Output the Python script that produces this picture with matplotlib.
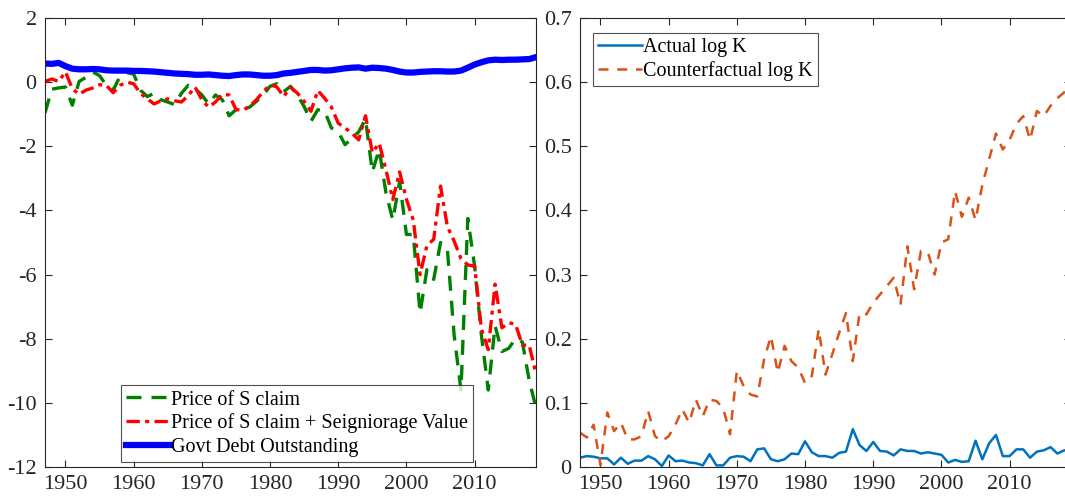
import matplotlib
matplotlib.use('Agg')
import matplotlib.pyplot as plt
import numpy as np

plt.rcParams['font.family'] = ['Liberation Serif', 'DejaVu Serif']
plt.rcParams['font.size'] = 15.5
plt.rcParams['axes.unicode_minus'] = False

# years shown on both panels
years = np.arange(1947, 2020)

# left panel
price_s = [-0.96, -0.22, -0.18, -0.15, -0.72, 0.02, 0.15, 0.32, 0.20, -0.10,
           -0.25, 0.18, 0.30, 0.25, -0.25, -0.45, -0.35, -0.55, -0.62, -0.70,
           -0.35, -0.10, -0.20, -0.40, -0.68, -0.40, -0.55, -1.05, -0.86, -0.85,
           -0.78, -0.60, -0.40, -0.13, -0.05, -0.30, -0.13, -0.40, -0.76, -1.22,
           -0.86, -0.90, -1.43, -1.55, -1.95, -1.75, -1.55, -1.15, -2.80, -2.10,
           -3.45, -4.30, -3.10, -4.75, -4.75, -7.20, -5.85, -6.15, -5.00, -5.20,
           -7.90, -9.60, -4.25, -5.74, -7.90, -9.60, -7.60, -8.40, -8.30, -8.00,
           -8.10, -9.30, -10.15]
price_s_seign = [0.02, 0.10, 0.02, 0.32, -0.20, -0.38, -0.25, -0.18, -0.08, -0.10,
                 -0.33, -0.10, 0.00, -0.05, -0.35, -0.52, -0.68, -0.58, -0.52, -0.58,
                 -0.62, -0.42, -0.15, -0.55, -0.78, -0.62, -0.38, -0.40, -0.85, -0.88,
                 -0.75, -0.55, -0.30, -0.08, -0.15, -0.45, -0.16, -0.34, -0.60, -0.91,
                 -0.26, -0.50, -0.78, -1.28, -1.43, -1.59, -1.80, -1.05, -2.20, -1.90,
                 -2.73, -3.66, -2.80, -3.65, -4.30, -6.00, -5.10, -4.90, -3.24, -4.50,
                 -4.96, -5.50, -5.70, -5.74, -7.70, -8.34, -6.30, -7.66, -7.50, -7.55,
                 -8.20, -8.20, -9.10]
govt_debt = [0.58, 0.57, 0.60, 0.50, 0.42, 0.40, 0.40, 0.41, 0.40, 0.37,
             0.36, 0.36, 0.36, 0.35, 0.35, 0.34, 0.33, 0.31, 0.29, 0.27,
             0.26, 0.25, 0.23, 0.23, 0.24, 0.22, 0.20, 0.19, 0.22, 0.24,
             0.24, 0.22, 0.20, 0.20, 0.22, 0.27, 0.29, 0.32, 0.35, 0.38,
             0.38, 0.36, 0.37, 0.40, 0.43, 0.45, 0.46, 0.42, 0.45, 0.44,
             0.42, 0.38, 0.33, 0.30, 0.30, 0.32, 0.33, 0.34, 0.34, 0.33,
             0.33, 0.36, 0.45, 0.55, 0.62, 0.68, 0.70, 0.69, 0.70, 0.70,
             0.71, 0.72, 0.78]

# right panel
actual_logk = [0.0145, 0.017, 0.016, 0.0135, 0.0135, 0.004, 0.0145, 0.005, 0.010, 0.0099,
               0.017, 0.012, 0.0015, 0.018, 0.009, 0.010, 0.007, 0.006, 0.0025, 0.020,
               0.0025, 0.0025, 0.0145, 0.017, 0.016, 0.009, 0.0275, 0.029, 0.012, 0.009,
               0.012, 0.021, 0.020, 0.040, 0.023, 0.017, 0.017, 0.0145, 0.022, 0.024,
               0.059, 0.034, 0.025, 0.039, 0.025, 0.024, 0.018, 0.0275, 0.025, 0.025,
               0.021, 0.023, 0.021, 0.019, 0.007, 0.011, 0.008, 0.009, 0.041, 0.012,
               0.037, 0.050, 0.017, 0.017, 0.0275, 0.0275, 0.0145, 0.024, 0.026, 0.031,
               0.021, 0.026, 0.025]
counter_logk = [0.0535, 0.046, 0.066, 0.003, 0.085, 0.056, 0.069, 0.043, 0.043, 0.048,
                0.087, 0.048, 0.040, 0.048, 0.066, 0.090, 0.069, 0.105, 0.079, 0.105,
                0.103, 0.092, 0.051, 0.150, 0.126, 0.113, 0.110, 0.168, 0.204, 0.147,
                0.189, 0.165, 0.155, 0.131, 0.142, 0.215, 0.144, 0.176, 0.209, 0.240,
                0.165, 0.240, 0.238, 0.256, 0.269, 0.282, 0.295, 0.253, 0.344, 0.277,
                0.337, 0.335, 0.300, 0.350, 0.355, 0.430, 0.390, 0.420, 0.385, 0.440,
                0.480, 0.520, 0.495, 0.510, 0.535, 0.547, 0.510, 0.555, 0.547, 0.563,
                0.575, 0.584, 0.600]

xticks = [1950, 1960, 1970, 1980, 1990, 2000, 2010]
txtcol = '#262626'

fig = plt.figure(figsize=[10.65, 4.99], dpi=100)
ax1 = fig.add_axes([45/1065., 32/499., 491/1065., 449/499.])
ax2 = fig.add_axes([580/1065., 32/499., 491/1065., 449/499.])

#==============================================================================
ax1.plot(years, price_s, '--', color=(0, 0.5, 0), lw=2.4, dashes=(4.5, 3.0),
         label='Price of S claim')
ax1.plot(years, price_s_seign, '-.', color='r', lw=2.4, dashes=(4.0, 1.6, 1.2, 1.6),
         label='Price of S claim + Seigniorage Value')
ax1.plot(years, govt_debt, '-', color='b', lw=4.5, label='Govt Debt Outstanding')
ax1.set_xlim(1947, 2019)
ax1.set_ylim(-12, 2)
ax1.set_yticks(np.arange(-12, 3, 2))
leg = ax1.legend(loc='lower left', bbox_to_anchor=(0.155, 0.012), fancybox=False,
                 edgecolor=txtcol, handlelength=2.2, handletextpad=0.05,
                 labelspacing=0.2, borderpad=0.25, borderaxespad=0, fontsize=14.5)
leg.get_frame().set_linewidth(0.8)

#==============================================================================
ax2.plot(years, actual_logk, '-', color=(0, 0.447, 0.741), lw=1.8, label='Actual log K')
ax2.plot(years, counter_logk, '--', color=(0.85, 0.325, 0.098), lw=1.8,
         dashes=(4.0, 3.5), label='Counterfactual log K')
ax2.set_xlim(1947, 2019)
ax2.set_ylim(0, 0.7)
ax2.set_yticks(np.arange(0, 0.71, 0.1))
ax2.set_yticklabels(['0', '0.1', '0.2', '0.3', '0.4', '0.5', '0.6', '0.7'])
leg = ax2.legend(loc='upper left', bbox_to_anchor=(0.026, 0.967), fancybox=False,
                 edgecolor=txtcol, handlelength=2.2, handletextpad=0.05,
                 labelspacing=0.2, borderpad=0.25, borderaxespad=0, fontsize=14.5)
leg.get_frame().set_linewidth(0.8)

for ax in (ax1, ax2):
    ax.set_xticks(xticks)
    ax.tick_params(direction='in', top=True, right=True, length=5, width=0.8,
                   colors=txtcol, labelsize=16, pad=6)
    for s in ax.spines.values():
        s.set_color(txtcol)
        s.set_linewidth(0.8)

plt.savefig('out.png', dpi=100)
plt.close('all')
